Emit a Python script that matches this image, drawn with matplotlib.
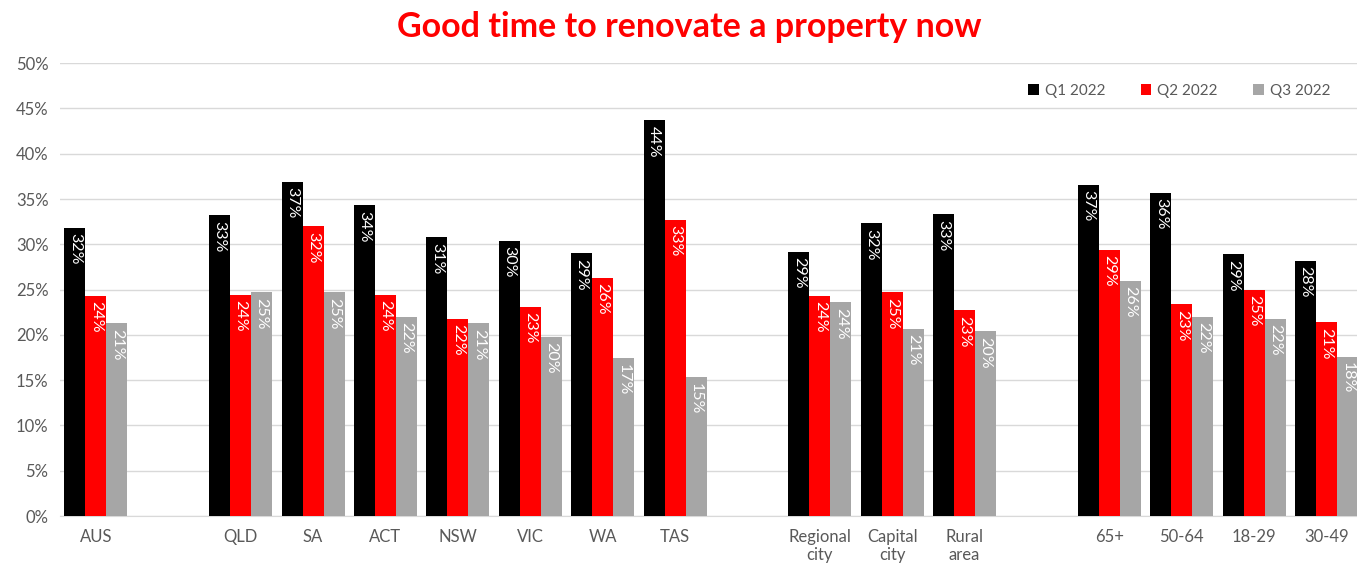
import matplotlib.pyplot as plt
import numpy as np

plt.rcParams['font.family'] = ['Lato', 'DejaVu Sans']

# categories with empty slots as gaps between groups
categories = ['AUS', '', 'QLD', 'SA', 'ACT', 'NSW', 'VIC', 'WA', 'TAS', '',
              'Regional\ncity', 'Capital\ncity', 'Rural\narea', '',
              '65+', '50-64', '18-29', '30-49']
series = ['Q1 2022', 'Q2 2022', 'Q3 2022']
q1 = [31.8, None, 33.2, 36.9, 34.3, 30.8, 30.4, 29.0, 43.7, None,
      29.2, 32.3, 33.3, None, 36.6, 35.7, 28.9, 28.2]
q2 = [24.3, None, 24.4, 32.0, 24.4, 21.8, 23.1, 26.3, 32.7, None,
      24.3, 24.7, 22.7, None, 29.4, 23.4, 25.0, 21.4]
q3 = [21.3, None, 24.7, 24.7, 22.0, 21.3, 19.8, 17.4, 15.3, None,
      23.6, 20.7, 20.4, None, 26.0, 22.0, 21.8, 17.6]
colors = ['#000000', '#ff0000', '#a6a6a6']

fig = plt.figure(figsize=(13.57, 5.64), dpi=100)
ax = fig.add_axes([0.044, 0.085, 0.956, 0.803])

x = np.arange(len(categories))
w = 0.29
for k, (vals, col, name) in enumerate(zip([q1, q2, q3], colors, series)):
    xs = [xi + (k - 1) * w for xi, v in zip(x, vals) if v is not None]
    vs = [v for v in vals if v is not None]
    ax.bar(xs, vs, width=w, color=col, label=name, zorder=3)
    for xi, v in zip(xs, vs):
        ax.text(xi, v - 0.6, f'{round(v)}%', rotation=-90, ha='center', va='top',
                color='white', fontsize=11.5, zorder=4)

ax.set_ylim(0, 50)
ax.set_xlim(-0.5, 17.42)
ax.set_yticks(range(0, 51, 5))
ax.set_yticklabels([f'{t}%' for t in range(0, 51, 5)])
ax.set_xticks(x)
ax.set_xticklabels(categories, linespacing=1.2)
ax.tick_params(axis='both', length=0, labelsize=12, colors='#595959')
ax.tick_params(axis='x', pad=9)
ax.tick_params(axis='y', pad=8)
ax.yaxis.grid(True, color='#d9d9d9', linewidth=1, zorder=0)
for s in ['top', 'right', 'left']:
    ax.spines[s].set_visible(False)
ax.spines['bottom'].set_color('#d9d9d9')

leg = ax.legend(loc='upper right', bbox_to_anchor=(0.99, 0.985), ncol=3,
                frameon=False, fontsize=11, handlelength=0.7, handleheight=0.7,
                columnspacing=2.3, handletextpad=0.4)
for t in leg.get_texts():
    t.set_color('#595959')

fig.suptitle('Good time to renovate a property now', color='#ff0000',
             fontsize=24.5, fontweight='bold', x=0.508, y=0.98)

fig.savefig('out.png', dpi=100)
